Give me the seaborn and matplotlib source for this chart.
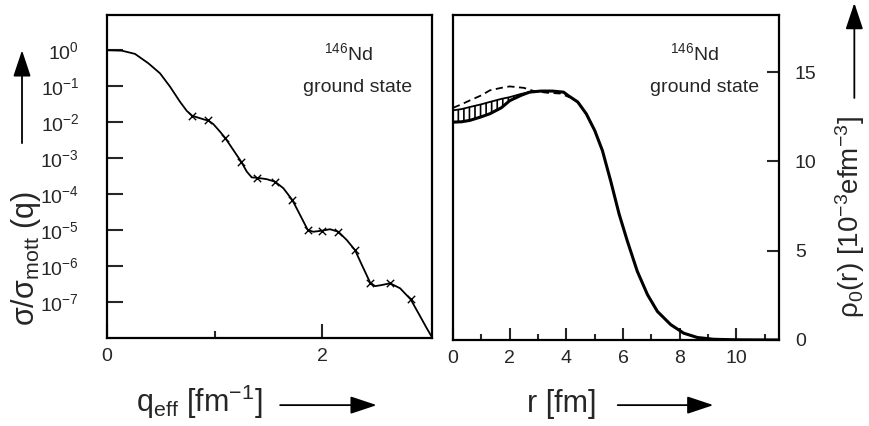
import numpy as np
import pandas as pd
import matplotlib
matplotlib.use("Agg")
import matplotlib.pyplot as plt
import seaborn as sns

# ---- left panel: sigma/sigma_mott vs q_eff (values as log10)
q_fit = [0.0, 0.012, 0.137, 0.26, 0.384, 0.493, 0.586, 0.679, 0.741, 0.793, 0.912,
         0.942, 0.989, 1.051, 1.098, 1.175, 1.247, 1.30, 1.346, 1.393, 1.486, 1.563,
         1.64, 1.724, 1.795, 1.867, 1.919, 1.997, 2.074, 2.152, 2.23, 2.307, 2.37,
         2.447, 2.493, 2.555, 2.633, 2.726, 2.825, 2.896, 2.974, 3.005, 3.02]
log_sig_fit = [0.0, -0.01, -0.02, -0.11, -0.37, -0.65, -1.02, -1.44, -1.69, -1.83, -1.94,
               -1.96, -2.06, -2.27, -2.44, -2.78, -3.10, -3.38, -3.54, -3.55, -3.59, -3.66,
               -3.84, -4.17, -4.58, -5.0, -5.05, -5.02, -4.98, -5.05, -5.28, -5.56, -5.97,
               -6.46, -6.56, -6.53, -6.48, -6.62, -6.93, -7.31, -7.73, -7.89, -7.97]
q_data = [0.793, 0.942, 1.098, 1.247, 1.393, 1.563, 1.724, 1.867, 1.997, 2.152, 2.307,
          2.447, 2.633, 2.825]
log_sig_data = [-1.83, -1.96, -2.44, -3.10, -3.55, -3.66, -4.17, -5.0, -5.02, -5.05, -5.56,
                -6.46, -6.48, -6.93]
log_ticks = [0, -1, -2, -3, -4, -5, -6, -7]
log_tick_labels = ["10$^{0}$", "10$^{-1}$", "10$^{-2}$", "10$^{-3}$", "10$^{-4}$",
                   "10$^{-5}$", "10$^{-6}$", "10$^{-7}$"]

# ---- right panel: charge density rho_0(r) [1e-3 e fm^-3]
r_fit = [0.0, 0.3, 0.6, 1.0, 1.3, 1.7, 2.0, 2.4, 2.7, 3.1, 3.5, 3.9, 4.05, 4.4, 4.7,
         5.0, 5.27, 5.56, 5.86, 6.15, 6.5, 6.86, 7.21, 7.68, 8.14, 8.62, 9.2, 10.0, 11.5]
rho_fit = [12.2, 12.22, 12.3, 12.5, 12.67, 13.0, 13.4, 13.7, 13.88, 13.94, 13.94, 13.88,
           13.7, 13.33, 12.67, 11.73, 10.61, 8.92, 7.05, 5.54, 3.85, 2.54, 1.6, 0.86,
           0.38, 0.14, 0.04, 0.01, 0.0]
r_band = [0.0, 0.3, 0.6, 1.0, 1.3, 1.7, 2.0, 2.4, 2.7]
rho_band_lo = [12.2, 12.22, 12.3, 12.5, 12.67, 13.0, 13.4, 13.7, 13.88]
rho_band_hi = [12.86, 12.93, 13.05, 13.2, 13.33, 13.5, 13.6, 13.78, 13.88]
r_dash = [0.0, 0.3, 0.6, 1.0, 1.3, 1.7, 2.0, 2.5, 2.85, 3.3, 3.8, 4.1]
rho_dash = [13.0, 13.2, 13.42, 13.7, 13.98, 14.12, 14.2, 14.12, 13.94, 13.85, 13.8, 13.6]

sns.set_theme(style="ticks")
plt.rcParams["font.family"] = ["Liberation Sans", "DejaVu Sans"]
plt.rcParams["mathtext.fontset"] = "custom"
plt.rcParams["mathtext.rm"] = "Liberation Sans"
plt.rcParams["mathtext.it"] = "Liberation Sans:italic"
plt.rcParams["mathtext.bf"] = "Liberation Sans:bold"
plt.rcParams["hatch.linewidth"] = 1.2

TICK_FS = 14
LABEL_FS = 22
NOTE_FS = 14

fig = plt.figure(figsize=(8.7, 4.26), dpi=100)
ax1 = fig.add_axes([0.123, 0.2066, 0.3736, 0.7582])
ax2 = fig.add_axes([0.5207, 0.2019, 0.3747, 0.7629])

# left
left_fit = pd.DataFrame({"q": q_fit, "sig": np.power(10.0, log_sig_fit)})
left_pts = pd.DataFrame({"q": q_data, "sig": np.power(10.0, log_sig_data)})
ax1.set_yscale("log")
sns.lineplot(data=left_fit, x="q", y="sig", ax=ax1, color="black", lw=1.3,
             sort=False, estimator=None)
sns.scatterplot(data=left_pts, x="q", y="sig", ax=ax1, color="black", marker="x",
                s=28, linewidth=1.0, zorder=3)
ax1.set_xlim(0, 3.023)
ax1.set_ylim(1e-8, 10 ** 0.97)
ax1.set_yticks(np.power(10.0, log_ticks))
ax1.set_yticklabels(log_tick_labels)
ax1.yaxis.set_minor_locator(matplotlib.ticker.NullLocator())
ax1.set_xticks([0, 2])
ax1.set_xticklabels(["0", "2"])
ax1.set_xticks([1], minor=True)
ax1.tick_params(axis="y", which="major", direction="in", length=11.5, width=1.5,
                pad=20, labelsize=TICK_FS, left=True, right=False)
ax1.tick_params(axis="x", which="major", direction="in", length=10, width=1.5,
                pad=7, labelsize=TICK_FS)
ax1.tick_params(axis="x", which="minor", direction="in", length=5, width=1.5)
ax1.set_xlabel("")
ax1.set_ylabel("")
ax1.text(0.742, 0.882, "$^{146}$Nd", transform=ax1.transAxes, ha="center",
         va="center", fontsize=NOTE_FS)
ax1.text(0.772, 0.776, "ground state", transform=ax1.transAxes, ha="center",
         va="center", fontsize=NOTE_FS)

# right
right_fit = pd.DataFrame({"r": r_fit, "rho": rho_fit})
right_dash = pd.DataFrame({"r": r_dash, "rho": rho_dash})
right_hi = pd.DataFrame({"r": r_band, "rho": rho_band_hi})
ax2.fill_between(r_band, rho_band_lo, rho_band_hi, facecolor="none",
                 edgecolor="black", hatch="|||", linewidth=0)
sns.lineplot(data=right_hi, x="r", y="rho", ax=ax2, color="black", lw=1.3,
             sort=False, estimator=None)
sns.lineplot(data=right_dash, x="r", y="rho", ax=ax2, color="black", lw=1.3,
             linestyle=(0, (4, 2.5)), sort=False, estimator=None)
sns.lineplot(data=right_fit, x="r", y="rho", ax=ax2, color="black", lw=2.2,
             sort=False, estimator=None)
ax2.set_xlim(0, 11.5)
ax2.set_ylim(0, 18.2)
ax2.set_xticks([0, 2, 4, 6, 8, 10])
ax2.set_xticks([1, 3, 5, 7, 9, 11], minor=True)
ax2.set_yticks([0, 5, 10, 15])
ax2.yaxis.tick_right()
ax2.tick_params(axis="y", which="major", direction="in", length=8.5, width=1.5,
                pad=11.5, labelsize=TICK_FS, left=False, right=True,
                labelleft=False, labelright=True)
ax2.tick_params(axis="x", which="major", direction="in", length=8.5, width=1.5,
                pad=7, labelsize=TICK_FS)
ax2.tick_params(axis="x", which="minor", direction="in", length=4.5, width=1.5)
ax2.set_xlabel("")
ax2.set_ylabel("")
ax2.text(0.742, 0.883, "$^{146}$Nd", transform=ax2.transAxes, ha="center",
         va="center", fontsize=NOTE_FS)
ax2.text(0.773, 0.777, "ground state", transform=ax2.transAxes, ha="center",
         va="center", fontsize=NOTE_FS)

for ax in (ax1, ax2):
    for sp in ax.spines.values():
        sp.set_visible(True)
        sp.set_linewidth(1.6)
        sp.set_color("black")

# axis labels with arrows, placed in figure coordinates
fig.text(0.2287, 0.033, "q$_{\\rm eff}$ [fm$^{-1}$]", ha="center", va="baseline",
         fontsize=LABEL_FS)
fig.text(0.646, 0.033, "r [fm]", ha="center", va="baseline", fontsize=LABEL_FS)
fig.text(0.030, 0.394, "σ/σ$_{\\rm mott}$ (q)", ha="center", va="center",
         rotation=90, fontsize=LABEL_FS)
fig.text(0.977, 0.49, "ρ$_0$(r) [10$^{-3}$efm$^{-3}$]", ha="center", va="center",
         rotation=90, fontsize=20)

arrow = dict(arrowstyle="-|>,head_length=0.9,head_width=0.3", color="black", lw=1.3,
             shrinkA=0, shrinkB=0)
fig.add_artist(matplotlib.patches.FancyArrowPatch((0.322, 0.049), (0.433, 0.049),
               transform=fig.transFigure, mutation_scale=18, **arrow))
fig.add_artist(matplotlib.patches.FancyArrowPatch((0.710, 0.049), (0.820, 0.049),
               transform=fig.transFigure, mutation_scale=18, **arrow))
fig.add_artist(matplotlib.patches.FancyArrowPatch((0.0253, 0.664), (0.0253, 0.882),
               transform=fig.transFigure, mutation_scale=18, **arrow))
fig.add_artist(matplotlib.patches.FancyArrowPatch((0.982, 0.770), (0.982, 0.993),
               transform=fig.transFigure, mutation_scale=18, **arrow))

fig.savefig("out.png", dpi=100)
